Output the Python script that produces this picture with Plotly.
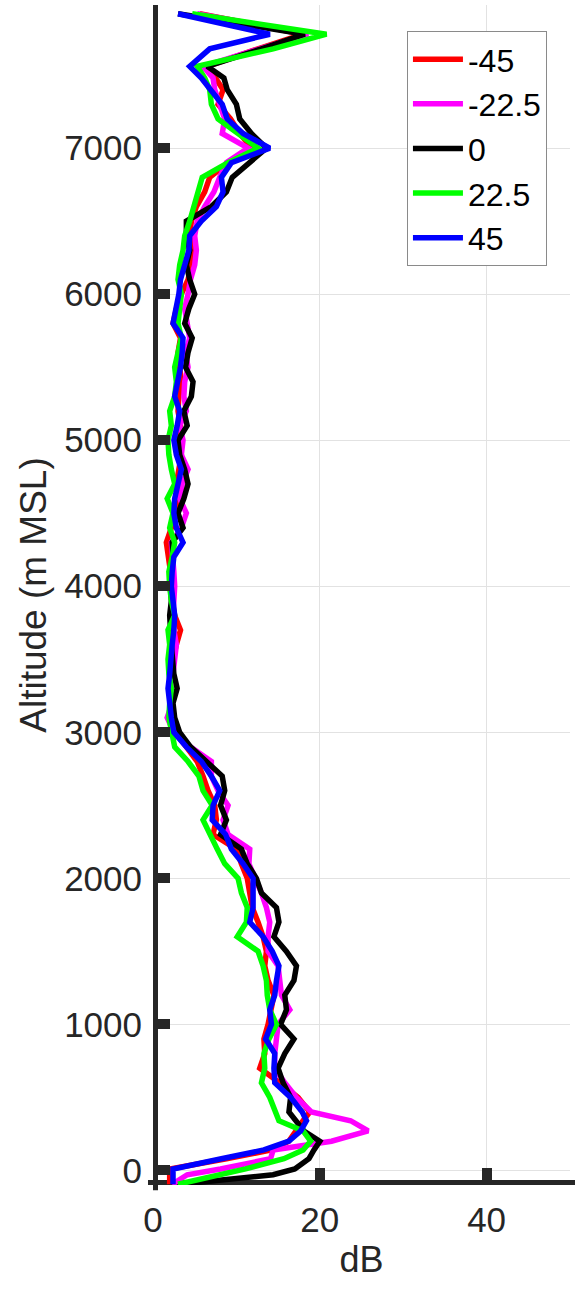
import plotly.graph_objects as go

# Altitude levels (m MSL) shared by all profiles
altitude = [
    -95, -30, 10, 80, 140, 200, 270, 340, 400,
    500, 600, 700, 800, 900, 1000, 1100, 1200, 1300, 1400,
    1500, 1600, 1700, 1800, 1900, 2000, 2100, 2200, 2300, 2400,
    2500, 2600, 2700, 2800, 2900, 3000, 3100, 3200, 3300, 3400,
    3500, 3600, 3700, 3800, 3900, 4000, 4100, 4200, 4300, 4400,
    4500, 4600, 4700, 4800, 4900, 5000, 5100, 5200, 5300, 5400,
    5500, 5600, 5700, 5800, 5900, 6000, 6100, 6200, 6300, 6400,
    6500, 6600, 6700, 6800, 6900, 7000, 7100, 7200, 7300, 7400,
    7480, 7560, 7680, 7780, 7920,
]

# Profile values (dB) for each beam angle
db_m45 = [
    2.0, 2.0, 2.0, 8.8, 14.2, 16.3, 17.1, 18.0, 18.8,
    17.4, 15.2, 12.8, 13.4, 13.3, 13.8, 14.2, 14.5, 13.8, 13.4,
    13.6, 13.2, 12.6, 11.9, 11.6, 11.3, 10.6, 10.0, 7.2, 7.6,
    7.4, 6.6, 6.0, 5.3, 4.0, 2.6, 2.3, 2.2, 2.0, 2.2,
    2.4, 2.8, 3.3, 2.6, 2.3, 2.0, 2.1, 1.9, 1.6, 2.2,
    2.8, 3.0, 2.8, 3.1, 3.4, 2.7, 3.3, 3.0, 3.1, 3.4,
    3.2, 3.0, 3.3, 2.4, 2.8, 3.4, 4.2, 4.6, 4.8, 4.4,
    4.6, 5.2, 6.2, 6.8, 9.0, 11.8, 10.4, 9.3, 7.8, 8.4,
    7.5, 6.5, 12.6, 18.0, 5.6,
]
db_m22 = [
    2.3, 4.1, 8.1, 14.1, 14.4, 21.4, 25.8, 23.7, 19.0,
    17.2, 15.8, 14.6, 14.6, 14.8, 15.0, 16.4, 15.4, 15.2, 15.0,
    13.8, 13.8, 14.0, 13.6, 13.0, 12.3, 11.5, 11.6, 9.0, 8.4,
    9.0, 7.8, 7.0, 7.0, 4.5, 2.5, 1.7, 2.3, 2.5, 2.4,
    2.6, 2.8, 2.5, 2.4, 2.5, 2.6, 2.5, 2.4, 2.2, 3.4,
    4.0, 3.2, 3.5, 4.2, 3.4, 3.6, 3.2, 4.0, 3.7, 3.8,
    4.2, 3.9, 4.4, 4.1, 3.8, 4.2, 4.5, 5.0, 5.2, 5.0,
    5.3, 6.2, 7.3, 8.0, 8.8, 11.4, 8.3, 8.6, 8.0, 7.4,
    7.2, 6.0, 12.8, 18.6, 5.3,
]
db_0 = [
    3.2, 14.4, 17.0, 18.7, 19.3, 20.0, 18.1, 17.1, 16.3,
    16.5, 15.6, 15.0, 15.8, 16.9, 15.3, 16.0, 15.8, 16.9, 17.2,
    16.0, 14.5, 15.1, 14.8, 13.0, 12.4, 11.3, 10.6, 8.1, 8.8,
    8.1, 8.6, 8.3, 6.4, 4.5, 3.2, 2.6, 2.4, 2.9, 2.5,
    2.3, 2.2, 2.1, 2.0, 2.2, 2.1, 2.0, 2.4, 2.3, 3.6,
    3.0, 3.7, 4.2, 3.8, 3.2, 3.0, 4.1, 3.7, 4.6, 4.8,
    3.9, 4.2, 4.7, 3.8, 4.3, 5.0, 4.4, 4.0, 4.4, 4.0,
    4.0, 7.0, 8.8, 9.5, 11.6, 13.6, 11.8, 10.4, 10.0, 8.9,
    8.5, 6.5, 13.0, 18.2, 3.0,
]
db_p22 = [
    3.0, 8.2, 11.1, 15.7, 18.0, 18.9, 18.0, 15.1, 14.7,
    14.0, 13.0, 13.4, 13.3, 13.9, 14.8, 14.0, 13.7, 13.6, 13.2,
    12.6, 10.1, 11.2, 11.3, 10.6, 10.2, 8.6, 7.7, 6.8, 6.0,
    7.1, 6.0, 5.5, 4.2, 2.6, 2.2, 1.9, 2.0, 2.2, 1.9,
    1.8, 2.0, 1.8, 2.6, 2.2, 2.0, 1.9, 2.3, 2.6, 2.0,
    2.4, 1.7, 2.6, 2.2, 1.9, 1.8, 2.2, 2.0, 2.6, 2.8,
    2.6, 3.0, 3.4, 3.0, 3.2, 3.4, 3.0, 3.2, 3.6, 3.8,
    4.4, 4.9, 5.4, 5.9, 9.0, 12.6, 10.2, 7.8, 7.0, 6.8,
    6.2, 5.3, 14.4, 20.8, 4.7,
]
db_p45 = [
    2.4, 2.4, 2.4, 8.2, 13.3, 16.3, 17.7, 18.4, 17.9,
    16.5, 14.6, 14.5, 14.6, 13.5, 14.2, 14.0, 14.6, 14.8, 15.1,
    14.3, 13.2, 11.6, 12.0, 12.0, 12.0, 10.8, 9.4, 8.7, 7.1,
    7.2, 8.0, 7.0, 5.8, 4.0, 2.5, 2.2, 2.0, 1.8, 2.0,
    2.1, 2.3, 2.5, 2.6, 2.4, 2.2, 2.3, 2.5, 3.6, 2.8,
    2.5, 2.6, 3.0, 3.4, 2.8, 2.5, 2.9, 3.2, 2.6, 3.0,
    3.3, 3.5, 3.6, 2.4, 2.8, 3.1, 3.3, 3.8, 4.3, 4.4,
    5.8, 7.6, 8.4, 8.2, 9.4, 14.0, 10.8, 8.9, 8.3, 6.9,
    5.8, 4.4, 6.8, 14.0, 3.0,
]

series_names = ["-45", "-22.5", "0", "22.5", "45"]
series_values = [db_m45, db_m22, db_0, db_p22, db_p45]
series_colors = ["#FF0000", "#FF00FF", "#000000", "#00FF00", "#0000FF"]

x_ticks = [0, 20, 40]
y_ticks = [0, 1000, 2000, 3000, 4000, 5000, 6000, 7000]

AXIS_COLOR = "#262626"
FONT = "Liberation Sans, Arial, sans-serif"

fig = go.Figure()
for name, vals, col in zip(series_names, series_values, series_colors):
    fig.add_trace(go.Scatter(
        x=vals, y=altitude, mode="lines", name=name,
        line=dict(color=col, width=5.5),
    ))

axis_common = dict(
    ticks="inside", ticklen=17, tickwidth=10, tickcolor=AXIS_COLOR,
    showgrid=True, gridcolor="#e2e2e2", gridwidth=1,
    zeroline=False, showline=False,
    tickfont=dict(family=FONT, size=35, color=AXIS_COLOR),
)

fig.update_layout(
    width=575, height=1293,
    margin=dict(l=153, r=5, t=5, b=108),
    paper_bgcolor="white", plot_bgcolor="white",
    font=dict(family=FONT, color=AXIS_COLOR),
    xaxis=dict(
        range=[0, 50], tickvals=x_ticks, ticklabelstandoff=11,
        title=dict(text="dB", font=dict(family=FONT, size=36, color=AXIS_COLOR), standoff=8),
        **axis_common,
    ),
    yaxis=dict(
        range=[-100, 7980], tickvals=y_ticks, ticklabelstandoff=10,
        title=dict(text="Altitude (m MSL)", font=dict(family=FONT, size=37, color=AXIS_COLOR), standoff=6),
        **axis_common,
    ),
    legend=dict(
        x=0.609, y=0.978, xanchor="left", yanchor="top",
        bgcolor="white", bordercolor="#8a8a8a", borderwidth=1,
        font=dict(family=FONT, size=32, color="black"),
        itemwidth=50, tracegroupgap=0,
    ),
    showlegend=True,
)

# Heavy axis lines centred on the plot edges
fig.add_shape(type="line", xref="x", yref="paper", x0=0, x1=0, y0=-0.0045, y1=1,
              line=dict(color=AXIS_COLOR, width=10), layer="between")
fig.add_shape(type="line", xref="paper", yref="y", x0=-0.012, x1=1.03, y0=-100, y1=-100,
              line=dict(color=AXIS_COLOR, width=10), layer="between")

fig.write_html("out.html")
